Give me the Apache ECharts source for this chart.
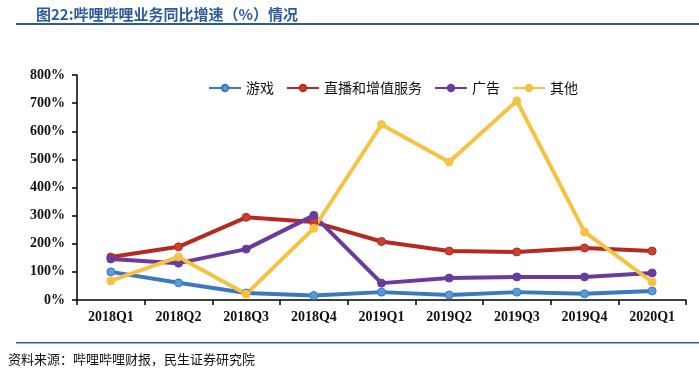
<!DOCTYPE html>
<html>
<head>
<meta charset="utf-8">
<script src="https://cdn.jsdelivr.net/npm/echarts@6/dist/echarts.min.js"></script>
<style>
  html, body { margin: 0; padding: 0; background: #fff; }
  #chart { width: 699px; height: 377px; }
</style>
</head>
<body>
<div id="chart"></div>
<script>
// 数据
const categories = ['2018Q1', '2018Q2', '2018Q3', '2018Q4', '2019Q1', '2019Q2', '2019Q3', '2019Q4', '2020Q1'];
const games = [100, 61, 25, 16, 28, 18, 28, 22, 32];        // 游戏
const live = [153, 189, 294, 277, 208, 174, 171, 185, 174];  // 直播和增值服务
const ads = [146, 131, 181, 301, 60, 78, 82, 82, 96];        // 广告
const others = [68, 153, 21, 255, 624, 491, 708, 242, 64];   // 其他

const chart = echarts.init(document.getElementById('chart'));

const mkSeries = (name, data, color, border) => ({
  name: name,
  type: 'line',
  data: data,
  symbol: 'circle',
  symbolSize: 8,
  lineStyle: { color: color, width: 4 },
  itemStyle: { color: border, borderColor: color, borderWidth: 1 },
  emphasis: { disabled: true }
});

const option = {
  animation: false,
  title: {
    text: '图22:哔哩哔哩业务同比增速（%）情况',
    left: 31, top: 2,
    textStyle: { color: '#2b5b9c', fontSize: 15, fontWeight: 'bold', fontFamily: 'Noto Sans CJK SC' }
  },
  graphic: [
    { type: 'rect', shape: { x: 16, y: 23, width: 683, height: 2 }, style: { fill: '#2b5b9c' } },
    { type: 'rect', shape: { x: 16, y: 342, width: 683, height: 1.5 }, style: { fill: '#2b5b9c' } },
    {
      type: 'text', left: 8, top: 353,
      style: { text: '资料来源：哔哩哔哩财报，民生证券研究院', fill: '#111', fontSize: 13, fontFamily: 'Noto Sans CJK SC' }
    }
  ],
  legend: {
    top: 76, left: 203,
    itemWidth: 32, itemHeight: 8, itemGap: 12,
    textStyle: { color: '#111', fontSize: 14, fontFamily: 'Noto Sans CJK SC' },
    data: ['游戏', '直播和增值服务', '广告', '其他']
  },
  grid: { left: 77, right: 13, top: 75, bottom: 77 },
  xAxis: {
    type: 'category',
    data: categories,
    boundaryGap: true,
    axisLine: { lineStyle: { color: '#000', width: 1.5 } },
    axisTick: { show: true, length: 5, lineStyle: { color: '#000', width: 1.5 } },
    axisLabel: { color: '#111', fontSize: 14, fontWeight: 'bold', fontFamily: 'Liberation Serif', margin: 10 }
  },
  yAxis: {
    type: 'value',
    min: 0, max: 800, interval: 100,
    axisLine: { show: true, lineStyle: { color: '#000', width: 1.5 } },
    axisTick: { show: true, length: 5, lineStyle: { color: '#000', width: 1.5 } },
    splitLine: { show: false },
    axisLabel: { color: '#111', fontSize: 14, fontWeight: 'bold', fontFamily: 'Liberation Serif', margin: 12, formatter: '{value}%' }
  },
  series: [
    mkSeries('游戏', games, '#3a78c2', '#5b9ad8'),
    mkSeries('直播和增值服务', live, '#b42a20', '#c9412f'),
    mkSeries('广告', ads, '#6a3a9f', '#6a3a9f'),
    mkSeries('其他', others, '#f5c242', '#f5c242')
  ]
};

chart.setOption(option);
</script>
</body>
</html>
